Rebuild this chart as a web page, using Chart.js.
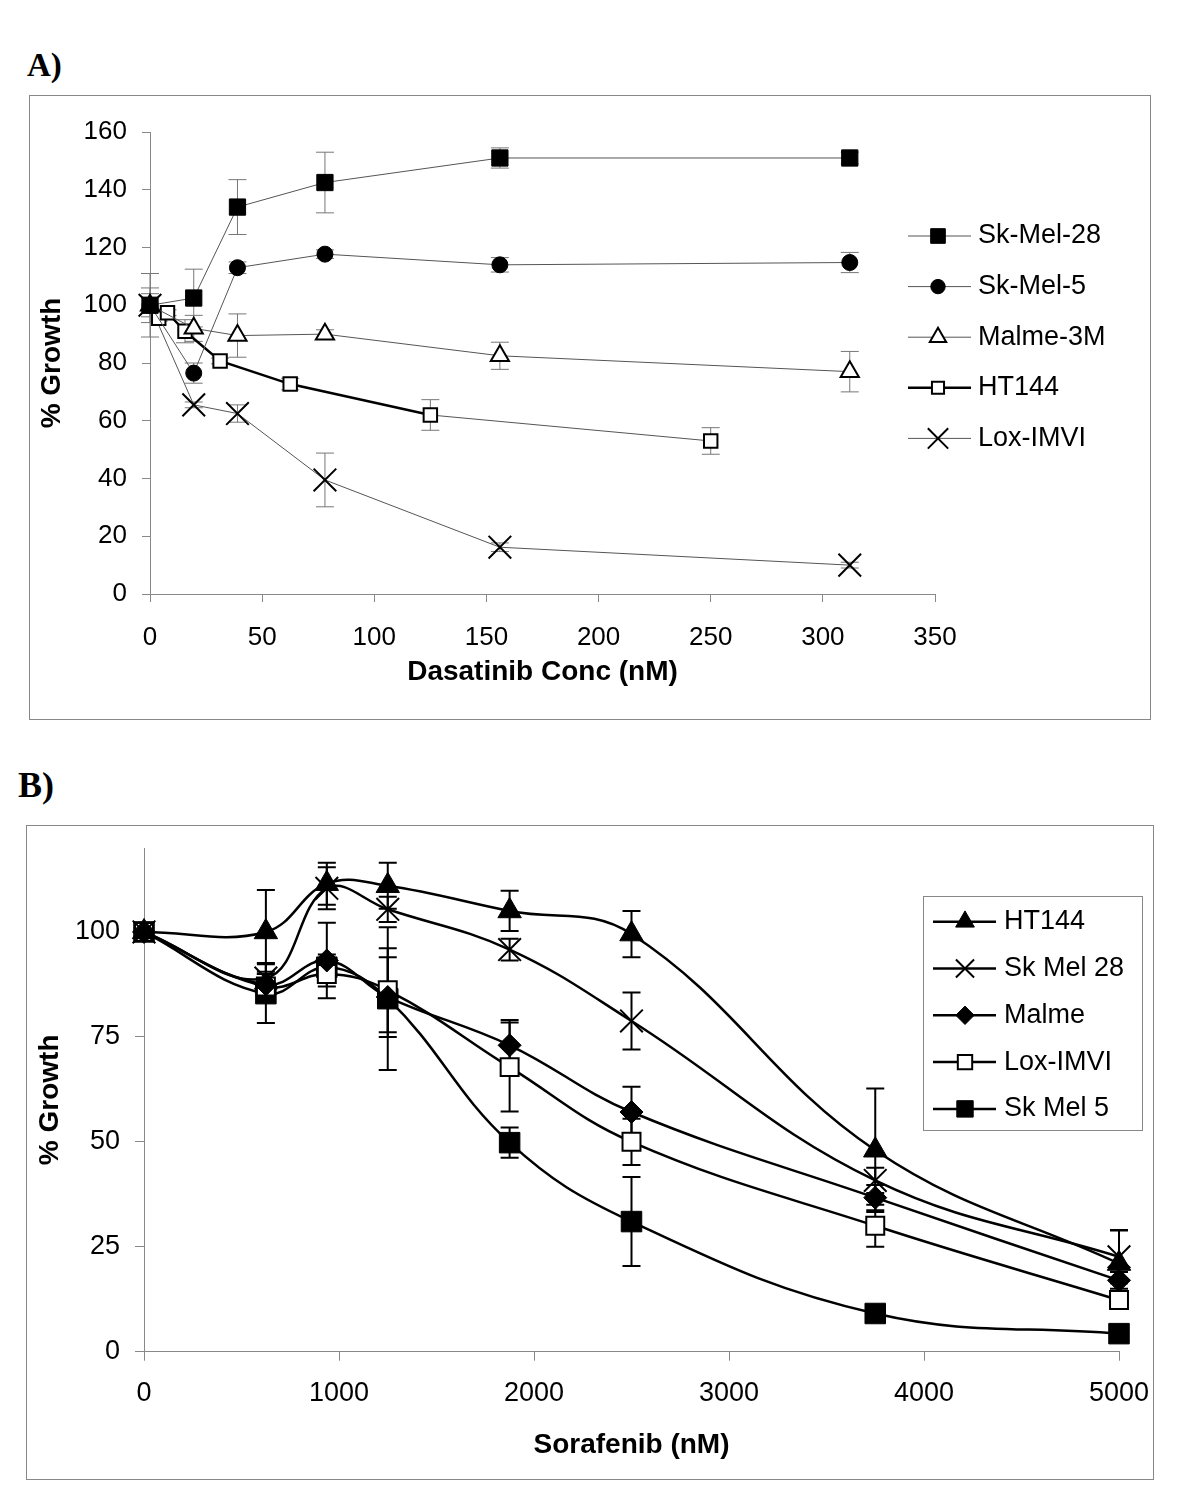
<!DOCTYPE html>
<html><head><meta charset="utf-8">
<script src="https://cdn.jsdelivr.net/npm/chart.js@4/dist/chart.umd.min.js"></script>
<style>
html,body{margin:0;padding:0;background:#fff;}
body{width:1200px;height:1504px;position:relative;overflow:hidden;font-family:"Liberation Sans",Arial,sans-serif;}
.box{position:absolute;border:1px solid #888;box-sizing:border-box;}
.lab{position:absolute;font-family:"Liberation Serif","Times New Roman",serif;font-weight:bold;line-height:1;color:#000;}
canvas{position:absolute;left:0;}
</style></head><body>
<div class="lab" style="left:27px;top:49px;font-size:33px">A)</div>
<div class="box" style="left:29px;top:95px;width:1122px;height:625px"></div>
<div class="lab" style="left:18px;top:767px;font-size:36px">B)</div>
<div class="box" style="left:26px;top:825px;width:1128px;height:655px"></div>
<canvas id="cA" width="1200" height="760" style="top:0"></canvas>
<canvas id="cB" width="1200" height="744" style="top:760px"></canvas>
<script>
// ---------- Panel A data (Dasatinib) ----------
const concA = [0, 19.5, 39, 78, 156, 312];
const concA_HT144 = [0, 3.9, 7.8, 15.6, 31.25, 62.5, 125, 250];
const skMel28A = [100, 102.5, 134, 142.5, 151, 151];
const skMel28A_err = [11, 10, 9.5, 10.5, 3.5, 2];
const skMel5A = [100, 76.5, 113, 117.7, 114, 114.8];
const skMel5A_err = [6, 3.5, 2, 1.5, 2.5, 3.5];
const malmeA = [100, 92, 89.5, 90, 82.5, 77];
const malmeA_err = [4, 4.5, 7.5, 1.5, 4.7, 7];
const ht144A = [100, 95.5, 97.4, 91, 80.7, 72.7, 62, 53];
const ht144A_err = [0, 1, 1, 4, 1, 2, 5.3, 4.6];
const loxA = [100, 65.5, 62.5, 39.5, 16.2, 10];
const loxA_err = [0, 1, 3, 9.3, 1.5, 1];
const labelsA = ['Sk-Mel-28', 'Sk-Mel-5', 'Malme-3M', 'HT144', 'Lox-IMVI'];

// ---------- Panel B data (Sorafenib) ----------
const concB = [0, 625, 937.5, 1250, 1875, 2500, 3750, 5000];
const ht144B = [100, 100, 111.5, 111, 105, 99.5, 48, 21];
const ht144B_err = [0, 10, 5, 5.5, 4.8, 5.5, 14.7, 8];
const skMel28B = [100, 89, 110.4, 105.4, 95.8, 78.8, 40.8, 22.6];
const skMel28B_err = [0, 3.6, 5, 3, 2.6, 6.8, 3, 6.3];
const malmeB = [100, 87.5, 93.2, 84.5, 73, 57.1, 36.7, 17];
const malmeB_err = [0, 3, 9, 9.5, 6, 6, 3, 2];
const loxB = [100, 87, 90, 86.1, 67.8, 50, 30, 12.3];
const loxB_err = [0, 3, 3, 10, 10.6, 5.5, 5, 1];
const skMel5B = [100, 85.3, 91.6, 84.1, 49.8, 31, 9.1, 4.3];
const skMel5B_err = [0, 7, 3, 17, 3.6, 10.6, 1, 1];
const labelsB = ['HT144', 'Sk Mel 28', 'Malme', 'Lox-IMVI', 'Sk Mel 5'];

const FONT = '"Liberation Sans", Arial, sans-serif';
const pts = (xs, ys) => xs.map((x, i) => ({x: x, y: ys[i]}));

const errorBars = {
  id: 'errorBars',
  beforeDatasetsDraw(chart, args, o) {
    const ctx = chart.ctx, x = chart.scales.x, y = chart.scales.y;
    ctx.save();
    ctx.strokeStyle = o.color; ctx.lineWidth = o.width;
    chart.data.datasets.forEach(ds => {
      if (!ds.errors) return;
      ds.data.forEach((p, j) => {
        const e = ds.errors[j]; if (!e) return;
        const px = x.getPixelForValue(p.x);
        const t = y.getPixelForValue(p.y + e), b = y.getPixelForValue(p.y - e);
        ctx.beginPath();
        ctx.moveTo(px, t); ctx.lineTo(px, b);
        ctx.moveTo(px - o.cap, t); ctx.lineTo(px + o.cap, t);
        ctx.moveTo(px - o.cap, b); ctx.lineTo(px + o.cap, b);
        ctx.stroke();
      });
    });
    ctx.restore();
  }
};

const sideLegend = {
  id: 'sideLegend',
  afterDraw(chart, args, o) {
    const ctx = chart.ctx;
    ctx.save();
    if (o.box) { ctx.strokeStyle = '#888'; ctx.lineWidth = 1; ctx.strokeRect(o.box[0], o.box[1], o.box[2], o.box[3]); }
    chart.data.datasets.forEach((ds, i) => {
      const yy = o.y0 + i * o.dy;
      ctx.strokeStyle = ds.legendLineColor || ds.borderColor;
      ctx.lineWidth = ds.legendLineWidth || ds.borderWidth;
      ctx.beginPath(); ctx.moveTo(o.x0, yy); ctx.lineTo(o.x1, yy); ctx.stroke();
      ctx.fillStyle = ds.pointBackgroundColor; ctx.strokeStyle = ds.pointBorderColor;
      ctx.lineWidth = ds.pointBorderWidth;
      Chart.helpers.drawPoint(ctx, {pointStyle: ds.pointStyle, radius: ds.pointRadius * o.scale, borderWidth: ds.pointBorderWidth, rotation: 0}, o.mx, yy);
      ctx.fillStyle = '#000'; ctx.font = o.font; ctx.textBaseline = 'middle'; ctx.textAlign = 'left';
      ctx.fillText(ds.label, o.tx, yy);
    });
    ctx.restore();
  }
};

function axisCommon(tickSize, tickLen, pad, step) {
  return {
    ticks: {font: {family: FONT, size: tickSize}, color: '#000', padding: pad, autoSkip: false, maxRotation: 0,
      stepSize: step, callback: v => String(v)},
    grid: {display: true, drawOnChartArea: false, drawTicks: true, tickLength: tickLen, color: '#888', lineWidth: 1},
    border: {display: true, color: '#888', width: 1}
  };
}

// ---------- Chart A ----------
const thinA = {borderColor: '#555', borderWidth: 1, clip: false, tension: 0};
const axA_x = axisCommon(26, 8, 20, 50), axA_y = axisCommon(26, 8, 15, 20);
new Chart(document.getElementById('cA'), {
  type: 'line',
  data: {datasets: [
    Object.assign({label: labelsA[0], data: pts(concA, skMel28A), errors: skMel28A_err,
      pointStyle: 'rect', pointRadius: 11.5, pointBackgroundColor: '#000', pointBorderColor: '#000', pointBorderWidth: 1}, thinA),
    Object.assign({label: labelsA[1], data: pts(concA, skMel5A), errors: skMel5A_err,
      pointStyle: 'circle', pointRadius: 8, pointBackgroundColor: '#000', pointBorderColor: '#000', pointBorderWidth: 1}, thinA),
    Object.assign({label: labelsA[2], data: pts(concA, malmeA), errors: malmeA_err,
      pointStyle: 'triangle', pointRadius: 10.5, pointBackgroundColor: '#fff', pointBorderColor: '#000', pointBorderWidth: 2}, thinA),
    Object.assign({}, thinA, {label: labelsA[3], data: pts(concA_HT144, ht144A), errors: ht144A_err,
      pointStyle: 'rect', pointRadius: 9.5, pointBackgroundColor: '#fff', pointBorderColor: '#000', pointBorderWidth: 2,
      legendLineWidth: 2.5, legendLineColor: '#000',
      segment: {borderWidth: c => c.p1DataIndex <= 6 ? 2.5 : 1, borderColor: c => c.p1DataIndex <= 6 ? '#000' : '#555'}}),
    Object.assign({label: labelsA[4], data: pts(concA, loxA), errors: loxA_err,
      pointStyle: 'crossRot', pointRadius: 16, pointBackgroundColor: '#000', pointBorderColor: '#000', pointBorderWidth: 2}, thinA)
  ]},
  options: {
    responsive: false, animation: false,
    layout: {padding: {left: 35, top: 132, right: 265, bottom: 71}},
    plugins: {legend: {display: false}, tooltip: {enabled: false},
      errorBars: {color: '#777', width: 1, cap: 9},
      sideLegend: {x0: 908, x1: 971, mx: 938, tx: 978, y0: 236, dy: 50.6, scale: 0.9, font: '27px ' + FONT}
    },
    scales: {
      x: Object.assign(axA_x, {type: 'linear', min: 0, max: 350,
        afterFit(s) { s.height = 95; },
        title: {display: true, text: 'Dasatinib Conc (nM)', color: '#000', padding: 0,
          font: {family: FONT, size: 28, weight: 'bold', lineHeight: 1.2}}}),
      y: Object.assign(axA_y, {type: 'linear', min: 0, max: 160,
        afterFit(s) { s.width = 115; },
        title: {display: true, text: '% Growth', color: '#000', padding: 0,
          font: {family: FONT, size: 28, weight: 'bold', lineHeight: 1.2}}})
    }
  },
  plugins: [errorBars, sideLegend]
});

// ---------- Chart B ----------
const lineB = {borderColor: '#000', borderWidth: 2.5, clip: false, tension: 0.4};
const axB_x = axisCommon(27, 9, 17, 1000), axB_y = axisCommon(27, 9, 15, 25);
new Chart(document.getElementById('cB'), {
  type: 'line',
  data: {datasets: [
    Object.assign({label: labelsB[0], data: pts(concB, ht144B), errors: ht144B_err,
      pointStyle: 'triangle', pointRadius: 13.5, pointBackgroundColor: '#000', pointBorderColor: '#000', pointBorderWidth: 1}, lineB),
    Object.assign({label: labelsB[1], data: pts(concB, skMel28B), errors: skMel28B_err,
      pointStyle: 'crossRot', pointRadius: 16, pointBackgroundColor: '#000', pointBorderColor: '#000', pointBorderWidth: 2}, lineB),
    Object.assign({label: labelsB[2], data: pts(concB, malmeB), errors: malmeB_err,
      pointStyle: 'rectRot', pointRadius: 11.5, pointBackgroundColor: '#000', pointBorderColor: '#000', pointBorderWidth: 1}, lineB),
    Object.assign({label: labelsB[3], data: pts(concB, loxB), errors: loxB_err,
      pointStyle: 'rect', pointRadius: 12.7, pointBackgroundColor: '#fff', pointBorderColor: '#000', pointBorderWidth: 2}, lineB),
    Object.assign({label: labelsB[4], data: pts(concB, skMel5B), errors: skMel5B_err,
      pointStyle: 'rect', pointRadius: 14.5, pointBackgroundColor: '#000', pointBorderColor: '#000', pointBorderWidth: 1}, lineB)
  ]},
  options: {
    responsive: false, animation: false,
    layout: {padding: {left: 33, top: 88, right: 81, bottom: 42}},
    plugins: {legend: {display: false}, tooltip: {enabled: false},
      errorBars: {color: '#000', width: 2, cap: 9},
      sideLegend: {box: [923.5, 136.5, 219, 234], x0: 933, x1: 996, mx: 965, tx: 1004, y0: 161.7, dy: 46.8, scale: 0.8, font: '27px ' + FONT}
    },
    scales: {
      x: Object.assign(axB_x, {type: 'linear', min: 0, max: 5000,
        afterFit(s) { s.height = 110.3; },
        title: {display: true, text: 'Sorafenib (nM)', color: '#000', padding: 0,
          font: {family: FONT, size: 28, weight: 'bold', lineHeight: 1.2}}}),
      y: Object.assign(axB_y, {type: 'linear', min: 0, max: 120,
        afterFit(s) { s.width = 111; },
        afterBuildTicks(s) { s.ticks = s.ticks.filter(t => t.value <= 100); },
        title: {display: true, text: '% Growth', color: '#000', padding: 0,
          font: {family: FONT, size: 28, weight: 'bold', lineHeight: 1.2}}})
    }
  },
  plugins: [errorBars, sideLegend]
});
</script>
</body></html>
